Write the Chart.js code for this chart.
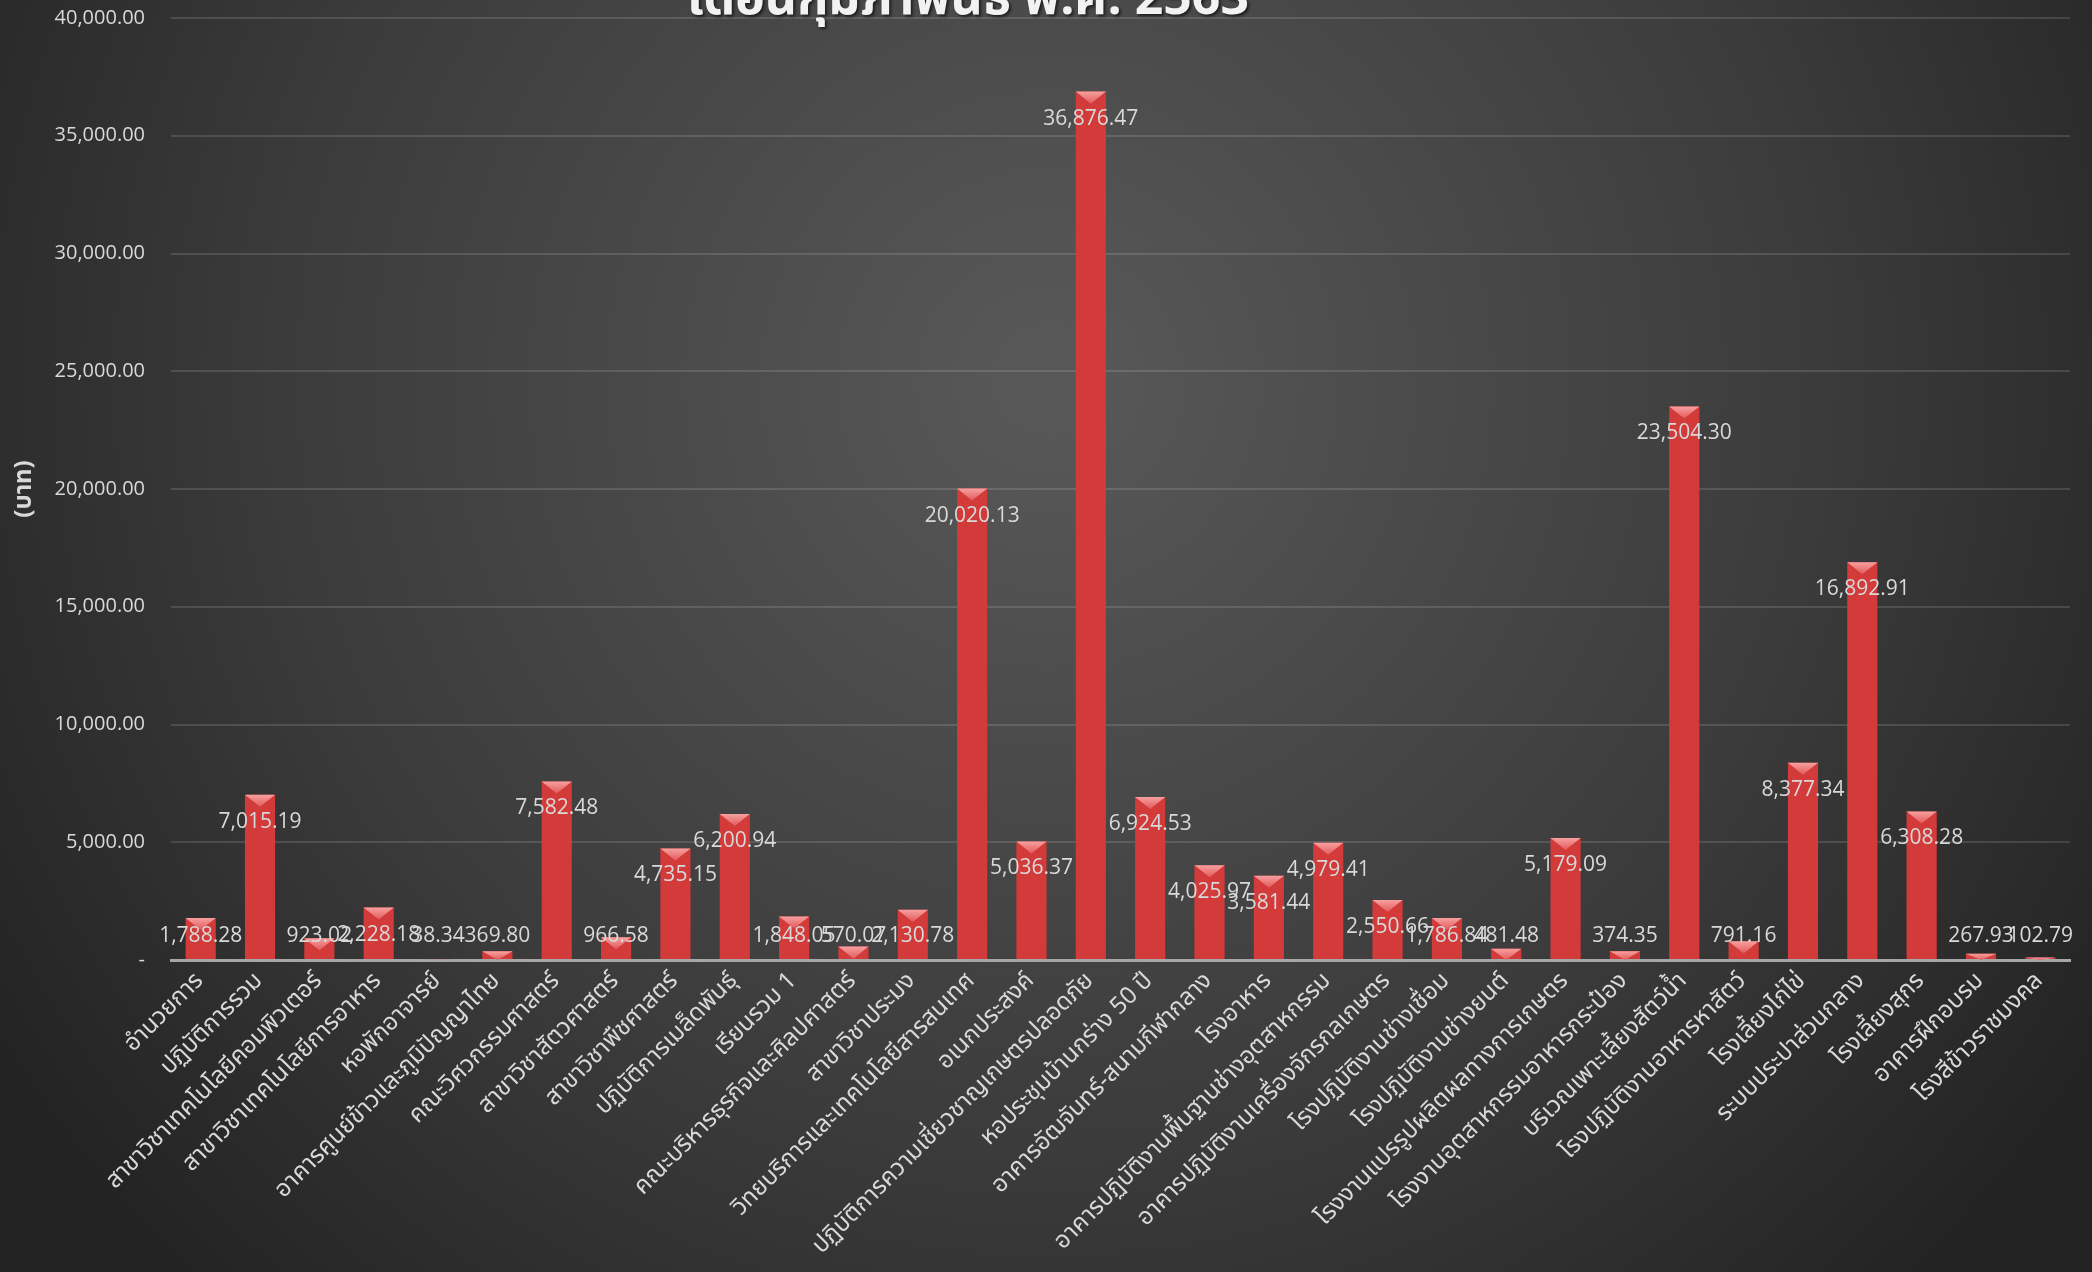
<!DOCTYPE html>
<html>
<head>
<meta charset="utf-8">
<script src="https://cdn.jsdelivr.net/npm/chart.js@4.4.1/dist/chart.umd.min.js"></script>
<style>
  html, body { margin: 0; padding: 0; background: #2b2b2b; }
  #wrap { width: 2092px; height: 1272px; }
</style>
</head>
<body>
<div id="wrap"><canvas id="costChart"></canvas></div>
<script>
const chartTitle = 'เดือนกุมภาพันธ์ พ.ศ. 2563';
const axisTitle = '(บาท)';

const categories = [
  'อำนวยการ', 'ปฏิบัติการรวม', 'สาขาวิชาเทคโนโลยีคอมพิวเตอร์', 'สาขาวิชาเทคโนโลยีการอาหาร',
  'หอพักอาจารย์', 'อาคารศูนย์ข้าวและภูมิปัญญาไทย', 'คณะวิศวกรรมศาสตร์', 'สาขาวิชาสัตวศาสตร์',
  'สาขาวิชาพืชศาสตร์', 'ปฏิบัติการเมล็ดพันธุ์', 'เรียนรวม 1', 'คณะบริหารธุรกิจและศิลปศาสตร์',
  'สาขาวิชาประมง', 'วิทยบริการและเทคโนโลยีสารสนเทศ', 'อเนกประสงค์', 'ปฏิบัติการความเชี่ยวชาญเกษตรปลอดภัย',
  'หอประชุมบ้านกร่าง 50 ปี', 'อาคารอัฒจันทร์-สนามกีฬากลาง', 'โรงอาหาร', 'อาคารปฏิบัติงานพื้นฐานช่างอุตสาหกรรม',
  'อาคารปฏิบัติงานเครื่องจักรกลเกษตร', 'โรงปฏิบัติงานช่างเชื่อม', 'โรงปฏิบัติงานช่างยนต์', 'โรงงานแปรรูปผลิตผลทางการเกษตร',
  'โรงงานอุตสาหกรรมอาหารกระป๋อง', 'บริเวณเพาะเลี้ยงสัตว์น้ำ', 'โรงปฏิบัติงานอาหารหาสัตว์', 'โรงเลี้ยงไก่ไข่',
  'ระบบประปาส่วนกลาง', 'โรงเลี้ยงสุกร', 'อาคารฝึกอบรม', 'โรงสีข้าวราชมงคล'
];

const costs = [
  1788.28, 7015.19, 923.02, 2228.18, 38.34, 369.80, 7582.48, 966.58,
  4735.15, 6200.94, 1848.05, 570.07, 2130.78, 20020.13, 5036.37, 36876.47,
  6924.53, 4025.97, 3581.44, 4979.41, 2550.66, 1786.84, 481.48, 5179.09,
  374.35, 23504.30, 791.16, 8377.34, 16892.91, 6308.28, 267.93, 102.79
];

const yTickLabels = ['-', '5,000.00', '10,000.00', '15,000.00', '20,000.00',
  '25,000.00', '30,000.00', '35,000.00', '40,000.00'];

const textColor = '#d9d9d9';
const thaiFont = '"Noto Sans Thai", "Noto Sans", "Open Sans", sans-serif';

function money(v) {
  return v.toLocaleString('en-US', { minimumFractionDigits: 2, maximumFractionDigits: 2 });
}

// dark radial background like the Excel chart style
const backdrop = {
  id: 'backdrop',
  beforeDraw(chart) {
    const { ctx, width, height } = chart;
    const g = ctx.createRadialGradient(1050, 380, 50, 1050, 380, 1250);
    g.addColorStop(0, '#575757');
    g.addColorStop(0.6, '#3b3b3b');
    g.addColorStop(1, '#232323');
    ctx.save();
    ctx.fillStyle = g;
    ctx.fillRect(0, 0, width, height);
    ctx.restore();
  }
};

// bevel on bar tops + value labels + clipped title
const decorations = {
  id: 'decorations',
  afterDatasetsDraw(chart) {
    const ctx = chart.ctx;
    const meta = chart.getDatasetMeta(0);
    const base = chart.scales.y.getPixelForValue(0);
    ctx.save();
    meta.data.forEach((bar) => {
      const w = bar.width;
      const h = Math.min(w * 0.4, base - bar.y);
      if (h <= 1) return;
      const g = ctx.createLinearGradient(0, bar.y, 0, bar.y + h);
      g.addColorStop(0, '#f7a0a0');
      g.addColorStop(1, '#e25a5a');
      ctx.fillStyle = g;
      ctx.beginPath();
      ctx.moveTo(bar.x - w / 2, bar.y);
      ctx.lineTo(bar.x + w / 2, bar.y);
      ctx.lineTo(bar.x, bar.y + h);
      ctx.closePath();
      ctx.fill();
    });
    ctx.font = '21px "Open Sans", sans-serif';
    ctx.fillStyle = textColor;
    ctx.textAlign = 'center';
    ctx.textBaseline = 'middle';
    meta.data.forEach((bar, i) => {
      const y = Math.min(bar.y + 27, base - 24);
      ctx.fillText(money(costs[i]), bar.x, y);
    });
    ctx.font = 'bold 50px ' + thaiFont;
    ctx.fillStyle = '#f2f2f2';
    ctx.shadowColor = 'rgba(0,0,0,0.6)';
    ctx.shadowOffsetX = 2;
    ctx.shadowOffsetY = 2;
    ctx.shadowBlur = 3;
    ctx.textBaseline = 'alphabetic';
    ctx.fillText(chartTitle, 968, 14);
    ctx.restore();
  }
};

const ctx = document.getElementById('costChart').getContext('2d');

const costChart = new Chart(ctx, {
  type: 'bar',
  data: {
    labels: categories,
    datasets: [{
      data: costs,
      backgroundColor: function(c) {
        const el = c.element;
        if (!el || !el.width) return '#d33a3a';
        const x0 = el.x - el.width / 2;
        const g = c.chart.ctx.createLinearGradient(x0, 0, x0 + el.width, 0);
        g.addColorStop(0, '#a82222');
        g.addColorStop(0.18, '#d63a3a');
        g.addColorStop(0.5, '#e04646');
        g.addColorStop(0.82, '#d03636');
        g.addColorStop(1, '#9e1f1f');
        return g;
      },
      borderWidth: 0,
      barPercentage: 0.62,
      categoryPercentage: 0.82
    }]
  },
  options: {
    responsive: true,
    maintainAspectRatio: false,
    devicePixelRatio: 1,
    animation: false,
    layout: { padding: { top: 18, right: 22, left: 0, bottom: 0 } },
    plugins: {
      legend: { display: false },
      tooltip: { enabled: false }
    },
    scales: {
      x: {
        grid: { display: false },
        border: { color: '#a6a6a6', width: 3 },
        ticks: {
          color: textColor,
          font: { size: 24, family: thaiFont },
          minRotation: 45,
          maxRotation: 45,
          autoSkip: false,
          padding: 0
        },
        afterFit: function(scale) { scale.height = 312; }
      },
      y: {
        min: 0,
        max: 40000,
        ticks: {
          stepSize: 5000,
          color: textColor,
          font: { size: 20, family: '"Open Sans", sans-serif' },
          padding: 2,
          callback: function(value) { return yTickLabels[Math.round(value / 5000)]; }
        },
        // invisible tick marks keep the labels away from the plot
        grid: { color: 'rgba(255,255,255,0.13)', lineWidth: 2, drawTicks: true, tickLength: 24, tickColor: 'rgba(0,0,0,0)' },
        border: { display: false },
        title: {
          display: true,
          text: axisTitle,
          color: textColor,
          font: { size: 24, weight: 'bold', family: thaiFont },
          padding: { top: 12, bottom: 0 }
        },
        afterFit: function(scale) { scale.width = 171; }
      }
    }
  },
  plugins: [backdrop, decorations]
});
</script>
</body>
</html>
